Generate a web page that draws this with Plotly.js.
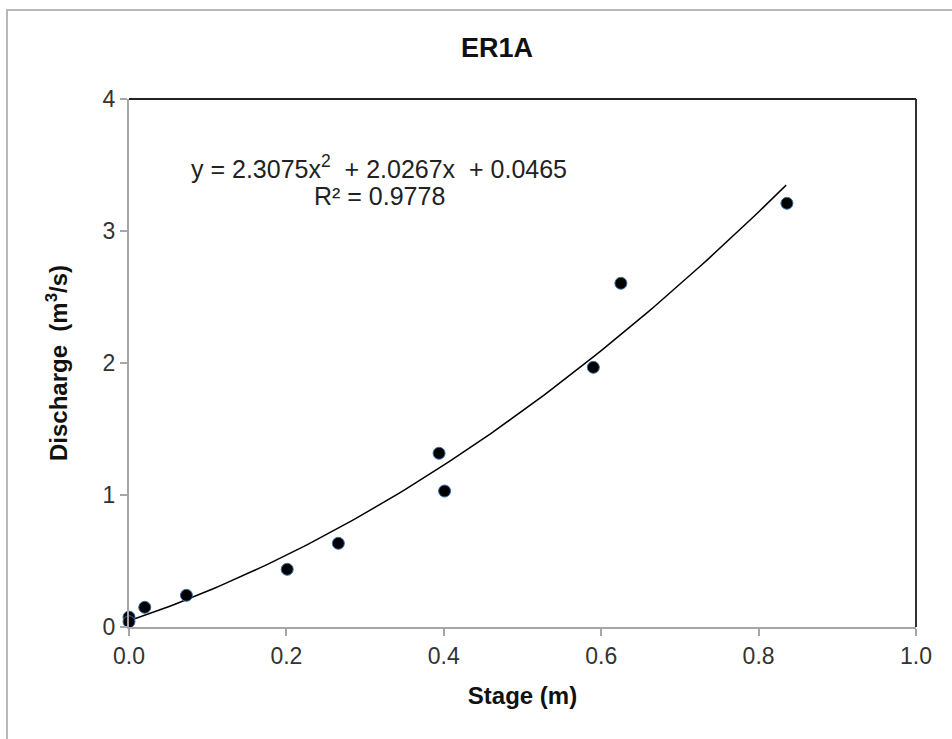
<!DOCTYPE html>
<html>
<head>
<meta charset="utf-8">
<script src="https://cdn.plot.ly/plotly-3.0.1.min.js"></script>
<style>
html,body{margin:0;padding:0;background:#fff;}
#wrap{position:relative;width:952px;height:739px;}
#chart{width:952px;height:739px;}
#frame{position:absolute;left:6px;top:9px;width:946px;height:730px;border-left:2px solid #b8b8b8;border-top:2px solid #b8b8b8;box-sizing:border-box;pointer-events:none;}
</style>
</head>
<body>
<div id="wrap"><div id="chart"></div><div id="frame"></div></div>
<script>
// Observed data (Stage in m, Discharge in m3/s)
const stage =     [0.000, 0.000, 0.020, 0.073, 0.201, 0.266, 0.394, 0.401, 0.590, 0.625, 0.836];
const discharge = [0.075, 0.040, 0.149, 0.240, 0.437, 0.634, 1.316, 1.030, 1.967, 2.604, 3.210];

// Trendline coefficients as displayed on chart
const coefA = 2.3075, coefB = 2.0267, coefC = 0.0465;
const fitStart = 0.0, fitEnd = 0.835;
const fitX = [], fitY = [];
for (let i = 0; i <= 100; i++) {
  const x = fitStart + (fitEnd - fitStart) * i / 100;
  fitX.push(x);
  fitY.push(coefA * x * x + coefB * x + coefC);
}

const xTicks = [0, 0.2, 0.4, 0.6, 0.8, 1.0];
const xTickText = ['0.0', '0.2', '0.4', '0.6', '0.8', '1.0'];
const yTicks = [0, 1, 2, 3, 4];

const font = 'Liberation Sans, Arial, sans-serif';

const traces = [
  {x: fitX, y: fitY, mode: 'lines', type: 'scatter',
   line: {color: '#000', width: 1.5}, hoverinfo: 'skip', showlegend: false, cliponaxis: false},
  {x: stage, y: discharge, mode: 'markers', type: 'scatter',
   marker: {color: '#000', size: 12, line: {color: '#3a6fb0', width: 1}}, showlegend: false, cliponaxis: false}
];

const layout = {
  width: 952, height: 739,
  margin: {l: 129, r: 36, t: 99, b: 112},
  paper_bgcolor: '#fff', plot_bgcolor: '#fff',
  font: {family: font, color: '#222', size: 23},
  title: {text: '<b>ER1A</b>', font: {family: font, size: 27, color: '#111'},
          x: 0.522, xanchor: 'center', y: 0.935, yanchor: 'middle'},
  xaxis: {range: [0, 1.0], tickvals: xTicks, ticktext: xTickText,
          showgrid: false, zeroline: false, showline: true, linecolor: '#a6a6a6', linewidth: 2,
          ticks: 'outside', ticklen: 7, tickcolor: '#a6a6a6', tickwidth: 2,
          tickfont: {family: font, size: 23, color: '#333'},
          title: {text: '<b>Stage (m)</b>', font: {family: font, size: 24, color: '#111'}, standoff: 20},
          mirror: false},
  yaxis: {range: [0, 4], tickvals: yTicks,
          showgrid: false, zeroline: false, showline: true, linecolor: '#a6a6a6', linewidth: 2,
          ticks: 'outside', ticklen: 7, tickcolor: '#a6a6a6', tickwidth: 2,
          tickfont: {family: font, size: 23, color: '#333'},
          title: {text: '<b>Discharge  (m<sup>3</sup>/s)</b>', font: {family: font, size: 24, color: '#111'}, standoff: 28}},
  shapes: [
    {type: 'line', xref: 'paper', yref: 'paper', x0: 0, x1: 1, y0: 1, y1: 1, line: {color: '#222', width: 2}},
    {type: 'line', xref: 'paper', yref: 'paper', x0: 1, x1: 1, y0: 0, y1: 1, line: {color: '#333', width: 2}}
  ],
  annotations: [
    {xref: 'paper', yref: 'paper', x: (379 - 129) / 787, y: (627 - 167) / 528, xanchor: 'center', yanchor: 'middle',
     showarrow: false, text: 'y = 2.3075x<sup>2</sup>  + 2.0267x  + 0.0465', font: {family: font, size: 25, color: '#222'}},
    {xref: 'paper', yref: 'paper', x: (379 - 129) / 787, y: (627 - 196) / 528, xanchor: 'center', yanchor: 'middle',
     showarrow: false, text: 'R² = 0.9778', font: {family: font, size: 25, color: '#222'}}
  ]
};

Plotly.newPlot('chart', traces, layout, {displayModeBar: false, staticPlot: true});
</script>
</body>
</html>
